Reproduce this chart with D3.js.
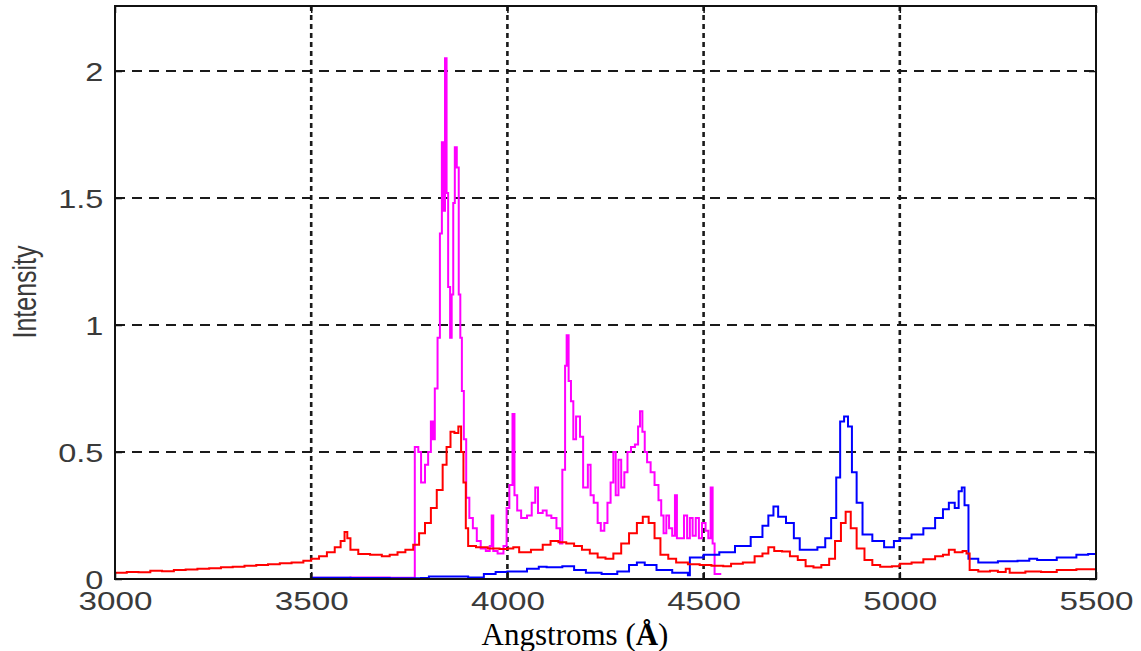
<!DOCTYPE html>
<html lang="en">
<head>
<meta charset="utf-8">
<script src="https://cdn.jsdelivr.net/npm/d3@7"></script>
<title>Intensity vs Angstroms</title>
<style>
  body { margin: 0; background: #fff; }
</style>
</head>
<body>
<svg width="1141" height="651"></svg>
<script>
// wavelength (Angstrom) / intensity pairs
var redX = [3000,3030,3060,3090,3120,3150,3180,3210,3240,3270,3300,3330,3360,3390,3420,3450,3480,3500,3520,3540,3560,3575,3585,3592,3600,3620,3650,3680,3700,3720,3740,3760,3775,3790,3805,3820,3835,3845,3855,3865,3875,3882,3888,3894,3900,3920,3950,3980,4000,4015,4030,4060,4090,4110,4130,4150,4170,4190,4210,4230,4250,4270,4290,4310,4330,4345,4360,4375,4390,4410,4430,4460,4490,4520,4550,4570,4600,4630,4650,4665,4680,4700,4720,4740,4760,4780,4800,4820,4835,4850,4862,4875,4890,4910,4930,4950,4980,5000,5030,5060,5090,5110,5125,5140,5160,5170,5178,5200,5230,5250,5270,5280,5320,5360,5400,5450,5500];
var redY = [0.025,0.028,0.027,0.032,0.031,0.035,0.037,0.040,0.042,0.046,0.048,0.052,0.055,0.058,0.062,0.065,0.072,0.080,0.090,0.105,0.125,0.150,0.185,0.160,0.115,0.098,0.095,0.090,0.095,0.105,0.115,0.135,0.180,0.220,0.280,0.350,0.450,0.520,0.580,0.575,0.600,0.500,0.380,0.200,0.130,0.125,0.120,0.118,0.120,0.125,0.105,0.115,0.135,0.150,0.145,0.140,0.130,0.115,0.100,0.085,0.080,0.100,0.140,0.180,0.220,0.245,0.220,0.160,0.095,0.080,0.065,0.058,0.055,0.052,0.050,0.060,0.065,0.090,0.100,0.125,0.110,0.108,0.090,0.075,0.050,0.045,0.055,0.080,0.150,0.220,0.265,0.200,0.120,0.075,0.055,0.048,0.050,0.060,0.065,0.078,0.090,0.095,0.115,0.105,0.110,0.100,0.035,0.030,0.032,0.028,0.040,0.025,0.030,0.028,0.035,0.038,0.045];

var blueX = [3500,3600,3700,3780,3800,3850,3900,3940,3970,4000,4050,4080,4100,4140,4170,4200,4240,4280,4310,4330,4350,4380,4420,4460,4465,4500,4540,4580,4620,4650,4665,4678,4690,4710,4730,4745,4770,4790,4810,4825,4838,4848,4858,4868,4878,4890,4905,4930,4960,4985,5000,5030,5060,5090,5110,5125,5140,5150,5158,5165,5175,5200,5250,5300,5330,5350,5400,5450,5480,5500];
var blueY = [0.005,0.004,0.003,0.004,0.010,0.010,0.006,0.020,0.028,0.030,0.040,0.048,0.046,0.050,0.035,0.025,0.020,0.030,0.055,0.065,0.055,0.035,0.025,0.015,0.085,0.095,0.105,0.130,0.165,0.210,0.250,0.285,0.245,0.220,0.160,0.115,0.115,0.125,0.160,0.240,0.400,0.620,0.640,0.600,0.420,0.300,0.175,0.150,0.125,0.150,0.160,0.175,0.200,0.240,0.275,0.300,0.280,0.345,0.360,0.290,0.080,0.065,0.070,0.072,0.080,0.075,0.085,0.095,0.098,0.105];

var magX = [3500,3600,3700,3760,3764,3773,3780,3790,3798,3805,3810,3815,3822,3828,3833,3838,3841,3845,3849,3854,3858,3862,3866,3871,3876,3880,3884,3889,3895,3903,3912,3922,3932,3945,3955,3960,3964,3975,3990,3998,4005,4013,4018,4025,4035,4050,4062,4071,4078,4090,4100,4112,4125,4134,4140,4147,4151,4156,4162,4168,4175,4185,4193,4205,4212,4220,4230,4238,4247,4255,4263,4270,4276,4283,4290,4298,4306,4315,4325,4333,4338,4344,4350,4356,4365,4375,4385,4392,4398,4405,4412,4420,4427,4432,4442,4450,4458,4465,4472,4480,4488,4496,4505,4512,4518,4523,4528,4545];
var magY = [0.005,0.006,0.005,0.005,0.52,0.50,0.38,0.45,0.50,0.62,0.55,0.75,0.95,1.36,1.72,1.45,2.05,1.52,1.15,0.95,1.12,1.48,1.70,1.62,1.12,0.95,0.74,0.55,0.32,0.24,0.20,0.15,0.12,0.11,0.13,0.25,0.11,0.10,0.13,0.28,0.37,0.65,0.33,0.27,0.24,0.25,0.30,0.36,0.26,0.27,0.25,0.24,0.20,0.14,0.43,0.84,0.96,0.78,0.70,0.55,0.64,0.56,0.36,0.45,0.33,0.30,0.22,0.19,0.22,0.30,0.38,0.50,0.33,0.47,0.36,0.42,0.50,0.52,0.53,0.60,0.66,0.58,0.50,0.46,0.42,0.37,0.31,0.25,0.18,0.25,0.20,0.17,0.33,0.16,0.16,0.25,0.16,0.24,0.17,0.24,0.16,0.22,0.19,0.16,0.36,0.14,0.02,0.02];

var xTicks = [3000,3500,4000,4500,5000,5500];
var yTicks = [0,0.5,1,1.5,2];

var margin = {top:6, right:45, bottom:72, left:115};
var width = 1141 - margin.left - margin.right;
var height = 651 - margin.top - margin.bottom;

var svg = d3.select("svg")
  .append("g")
  .attr("transform", "translate(" + margin.left + "," + margin.top + ")");

var x = d3.scaleLinear().domain([3000,5500]).range([0,width]);
var y = d3.scaleLinear().domain([0,2.256]).range([height,0]);

// grid
svg.selectAll(".hgrid")
  .data(yTicks.filter(function(d){return d > 0;}))
  .enter().append("line")
  .attr("x1",0).attr("x2",width)
  .attr("y1",function(d){return y(d);}).attr("y2",function(d){return y(d);})
  .attr("stroke","#1a1a1a").attr("stroke-width",2)
  .attr("stroke-dasharray","10,7");

svg.selectAll(".vgrid")
  .data(xTicks.filter(function(d){return d > 3000 && d < 5500;}))
  .enter().append("line")
  .attr("y1",0).attr("y2",height)
  .attr("x1",function(d){return x(d);}).attr("x2",function(d){return x(d);})
  .attr("stroke","#1a1a1a").attr("stroke-width",2.6)
  .attr("stroke-dasharray","5,4");

// spectra
var line = d3.line()
  .x(function(d){return x(d[0]);})
  .y(function(d){return y(d[1]);})
  .curve(d3.curveStepAfter);

function pairs(xs, ys) { return xs.map(function(v,i){return [v, ys[i]];}); }

svg.append("path").datum(pairs(magX,magY))
  .attr("fill","none").attr("stroke","#ff00ff").attr("stroke-width",2).attr("d",line);
svg.append("path").datum(pairs(blueX,blueY))
  .attr("fill","none").attr("stroke","#0000ff").attr("stroke-width",2).attr("d",line);
svg.append("path").datum(pairs(redX,redY))
  .attr("fill","none").attr("stroke","#ff0000").attr("stroke-width",2).attr("d",line);

// axes (ticks inside)
var xAxis = svg.append("g")
  .attr("transform","translate(0," + height + ")")
  .call(d3.axisBottom(x).tickValues(xTicks).tickSize(-7).tickFormat(d3.format("d")));
var yAxis = svg.append("g")
  .call(d3.axisLeft(y).tickValues(yTicks).tickSize(-7).tickFormat(function(d){return String(d);}));
svg.append("g")
  .call(d3.axisTop(x).tickValues(xTicks).tickSize(-7).tickFormat(""));
svg.append("g")
  .attr("transform","translate(" + width + ",0)")
  .call(d3.axisRight(y).tickValues(yTicks).tickSize(-7).tickFormat(""));

svg.selectAll(".domain").remove();
svg.selectAll(".tick line").attr("stroke","#111").attr("stroke-width",1.5);

xAxis.selectAll("text")
  .attr("y",31).attr("dy",0)
  .attr("transform","scale(1.33,1)")
  .style("font-family","'Liberation Sans', Arial, sans-serif")
  .style("font-size","25px").attr("fill","#3a3a3a");
yAxis.selectAll("text")
  .attr("x",-9).attr("dy","0.37em")
  .attr("transform","scale(1.3,1)")
  .style("font-family","'Liberation Sans', Arial, sans-serif")
  .style("font-size","25px").attr("fill","#3a3a3a");

// frame
svg.append("rect")
  .attr("x",0).attr("y",0).attr("width",width).attr("height",height)
  .attr("fill","none").attr("stroke","#111").attr("stroke-width",2);

// labels
svg.append("text")
  .attr("transform","translate(" + (36 - margin.left) + "," + (292 - margin.top) + ") scale(1.3,1) rotate(-90)")
  .attr("text-anchor","middle")
  .style("font-family","'Liberation Sans', Arial, sans-serif")
  .style("font-size","25px").attr("fill","#3a3a3a")
  .text("Intensity");

var xl = svg.append("text")
  .attr("x", 575 - margin.left).attr("y", 645 - margin.top)
  .attr("text-anchor","middle")
  .style("font-family","'Liberation Serif', 'Times New Roman', serif")
  .style("font-size","31px").attr("fill","#000");
xl.append("tspan").text("Angstroms (");
xl.append("tspan").attr("font-weight","bold").text("Å");
xl.append("tspan").text(")");
</script>
</body>
</html>
